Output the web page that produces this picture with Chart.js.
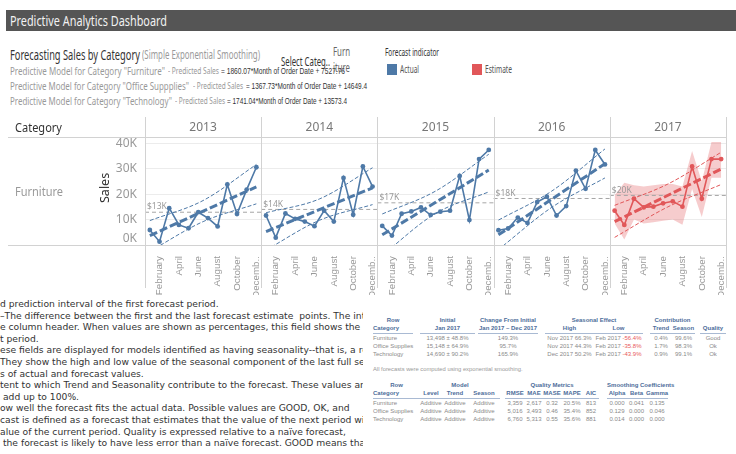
<!DOCTYPE html>
<html lang="en">
<head>
<meta charset="UTF-8">
<title>Predictive Analytics Dashboard</title>
<script src="https://cdn.jsdelivr.net/npm/chart.js"></script>
<style>
  body { margin: 0; width: 736px; height: 454px; overflow: hidden; background: #fff; position: relative;
         font-family: "Noto Sans", Arial, sans-serif; }
  .abs { position: absolute; white-space: nowrap; }
  .fit { transform-origin: left center; }
  #titlebar { left: 6px; top: 10px; width: 730px; height: 21px; background: #555; }
  #titleText { left: 10px; top: 10px; height: 21px; line-height: 21px; font-size: 15px; color: #f2f2f2; }
  .head { font-size: 13.5px; line-height: 16px; color: #333; }
  .sub { font-size: 12.5px; line-height: 16px; color: #999; }
  .model { font-size: 11.5px; line-height: 14px; color: #999; }
  .ps { font-size: 9px; line-height: 14px; color: #999; }
  .eq { font-family: "Liberation Sans", Arial, sans-serif; font-size: 9.5px; line-height: 14px; color: #333; }
  .lab { font-size: 12px; line-height: 14px; }
  .sw { width: 10px; height: 11px; top: 64px; }
  #chartBox { left: 0; top: 110px; width: 736px; height: 185px; }
  #salesTitle { left: 91px; top: 181px; font-size: 12.5px; line-height: 16px; color: #333; transform: rotate(-90deg); width: 28px; text-align: center; }
  #notes { left: 0; top: 298px; width: 363px; height: 156px; overflow: hidden; font-family: "DejaVu Sans", sans-serif;
           font-size: 9.2px; line-height: 11.6px; color: #333; }
  #notes div { white-space: nowrap; }
  table.info { position: absolute; border-collapse: collapse; font-family: "Liberation Sans", Arial, sans-serif;
               font-size: 6px; color: #8a8a8a; table-layout: fixed; }
  table.info td { padding: 0; height: 8.3px; line-height: 8.3px; white-space: nowrap; overflow: visible; }
  table.info tr.h td { color: #4d6d9a; font-weight: bold; }
  table.info tr.u td.l { border-bottom: 1px solid #a9bad3; }
  .c { text-align: center; }
  .neg { color: #e8595b; }
  #note2 { left: 373px; top: 366px; font-family: "Liberation Sans", Arial, sans-serif; font-size: 5.8px; color: #999; }
</style>
</head>
<body>
<div id="titlebar" class="abs"></div>
<div id="titleText" class="abs fit" data-w="157">Predictive Analytics Dashboard</div>

<div class="abs fit head" style="left:10px;top:47px" data-w="130">Forecasting Sales by Category</div>
<div class="abs fit sub" style="left:142px;top:47px" data-w="118">(Simple Exponential Smoothing)</div>

<div class="abs fit model" style="left:10px;top:64px" data-w="155">Predictive Model for Category "Furniture"</div>
<div class="abs fit ps" style="left:168px;top:64px" data-w="51">- Predicted Sales</div>
<div class="abs fit eq" style="left:221px;top:64px" data-w="124">= 1860.07*Month of Order Date + 7527.76</div>

<div class="abs fit model" style="left:10px;top:79px" data-w="179">Predictive Model for Category "Office Suppplies"</div>
<div class="abs fit ps" style="left:193px;top:79px" data-w="50">- Predicted Sales</div>
<div class="abs fit eq" style="left:246px;top:79px" data-w="121">= 1367.73*Month of Order Date + 14649.4</div>

<div class="abs fit model" style="left:10px;top:94px" data-w="162">Predictive Model for Category "Technology"</div>
<div class="abs fit ps" style="left:175px;top:94px" data-w="50">- Predicted Sales</div>
<div class="abs fit eq" style="left:227px;top:94px" data-w="120">= 1741.04*Month of Order Date + 13573.4</div>

<div class="abs fit lab" style="left:281px;top:55px;color:#333" data-w="49">Select Categ..</div>
<div class="abs fit lab" style="left:333px;top:45px;color:#666" data-w="17">Furn</div>
<div class="abs fit lab" style="left:333px;top:61px;color:#666" data-w="17">iture</div>
<div class="abs fit lab" style="left:385px;top:45px;color:#333;font-size:10.5px" data-w="54">Forecast indicator</div>
<div class="abs sw" style="left:387px;background:#4e79a7"></div>
<div class="abs fit lab" style="left:400px;top:62px;color:#555;font-size:10.5px" data-w="19">Actual</div>
<div class="abs sw" style="left:472px;background:#e15759"></div>
<div class="abs fit lab" style="left:485px;top:62px;color:#555;font-size:10.5px" data-w="27">Estimate</div>

<div id="chartBox" class="abs"><canvas id="forecastChart"></canvas></div>
<div class="abs fit lab" style="left:15px;top:121px;color:#333;font-size:12.5px" data-w="47">Category</div>
<div class="abs fit lab" style="left:15px;top:185px;color:#999;font-size:12.5px" data-w="48">Furniture</div>
<div id="salesTitle" class="abs">Sales</div>

<div id="notes" class="abs">
  <div>d prediction interval of the first forecast period.</div>
  <div>–The difference between the first and the last forecast estimate&nbsp; points. The interval</div>
  <div>e column header. When values are shown as percentages, this field shows the percent</div>
  <div>t period.</div>
  <div>ese fields are displayed for models identified as having seasonality--that is, a repeating</div>
  <div>They show the high and low value of the seasonal component of the last full season</div>
  <div>s of actual and forecast values.</div>
  <div>tent to which Trend and Seasonality contribute to the forecast. These values are</div>
  <div>&nbsp;add up to 100%.</div>
  <div>ow well the forecast fits the actual data. Possible values are GOOD, OK, and</div>
  <div>cast is defined as a forecast that estimates that the value of the next period will</div>
  <div>alue of the current period. Quality is expressed relative to a naïve forecast,</div>
  <div>&nbsp;the forecast is likely to have less error than a naïve forecast. GOOD means that</div>
</div>

<table class="info" style="left:373px;top:316px;width:353px">
  <colgroup>
    <col style="width:40px"><col style="width:7px"><col style="width:55px"><col style="width:3px"><col style="width:60px"><col style="width:7px">
    <col style="width:49px"><col style="width:49px"><col style="width:7px"><col style="width:22px"><col style="width:23px"><col style="width:5px"><col style="width:26px">
  </colgroup>
  <tr class="h"><td class="c">Row</td><td></td><td class="c">Initial</td><td></td><td class="c">Change From Initial</td><td></td><td class="c" colspan="2">Seasonal Effect</td><td></td><td class="c" colspan="2">Contribution</td><td></td><td></td></tr>
  <tr class="h u"><td class="l">Category</td><td></td><td class="c l">Jan 2017</td><td></td><td class="c l">Jan 2017 – Dec 2017</td><td></td><td class="c l">High</td><td class="c l">Low</td><td></td><td class="c l">Trend</td><td class="c l">Season</td><td></td><td class="c l">Quality</td></tr>
  <tr><td>Furniture</td><td></td><td class="c">13,498 ± 48.8%</td><td></td><td class="c">149.3%</td><td></td><td class="c">Nov 2017 66.3%</td><td class="c">Feb 2017 <span class="neg">-56.4%</span></td><td></td><td class="c">0.4%</td><td class="c">99.6%</td><td></td><td class="c">Good</td></tr>
  <tr><td>Office Supplies</td><td></td><td class="c">15,148 ± 64.9%</td><td></td><td class="c">95.7%</td><td></td><td class="c">Nov 2017 44.3%</td><td class="c">Feb 2017 <span class="neg">-35.8%</span></td><td></td><td class="c">1.7%</td><td class="c">98.3%</td><td></td><td class="c">Ok</td></tr>
  <tr><td>Technology</td><td></td><td class="c">14,690 ± 90.2%</td><td></td><td class="c">165.9%</td><td></td><td class="c">Dec 2017 50.2%</td><td class="c">Feb 2017 <span class="neg">-43.9%</span></td><td></td><td class="c">0.9%</td><td class="c">99.1%</td><td></td><td class="c">Ok</td></tr>
</table>
<div id="note2" class="abs">All forecasts were computed using exponential smoothing.</div>
<table class="info" style="left:373px;top:381px;width:295px">
  <colgroup>
    <col style="width:47px"><col style="width:22px"><col style="width:26px"><col style="width:32px"><col style="width:5px">
    <col style="width:20px"><col style="width:18px"><col style="width:18px"><col style="width:22px"><col style="width:16px"><col style="width:8px">
    <col style="width:20px"><col style="width:19px"><col style="width:22px">
  </colgroup>
  <tr class="h"><td class="c">Row</td><td class="c" colspan="3">Model</td><td></td><td class="c" colspan="5">Quality Metrics</td><td></td><td class="c" colspan="3">Smoothing Coefficients</td></tr>
  <tr class="h u"><td class="l">Category</td><td class="c l">Level</td><td class="c l">Trend</td><td class="c l">Season</td><td></td><td class="c l">RMSE</td><td class="c l">MAE</td><td class="c l">MASE</td><td class="c l">MAPE</td><td class="c l">AIC</td><td></td><td class="c l">Alpha</td><td class="c l">Beta</td><td class="c l">Gamma</td></tr>
  <tr><td>Furniture</td><td class="c">Additive</td><td class="c">Additive</td><td class="c">Additive</td><td></td><td class="c">3,359</td><td class="c">2,617</td><td class="c">0.32</td><td class="c">20.5%</td><td class="c">813</td><td></td><td class="c">0.000</td><td class="c">0.041</td><td class="c">0.135</td></tr>
  <tr><td>Office Supplies</td><td class="c">Additive</td><td class="c">Additive</td><td class="c">Additive</td><td></td><td class="c">5,016</td><td class="c">3,493</td><td class="c">0.46</td><td class="c">35.4%</td><td class="c">852</td><td></td><td class="c">0.129</td><td class="c">0.000</td><td class="c">0.046</td></tr>
  <tr><td>Technology</td><td class="c">Additive</td><td class="c">Additive</td><td class="c">Additive</td><td></td><td class="c">6,760</td><td class="c">5,313</td><td class="c">0.55</td><td class="c">35.6%</td><td class="c">881</td><td></td><td class="c">0.014</td><td class="c">0.000</td><td class="c">0.000</td></tr>
</table>

<script>
  // Furniture sales per month, Jan..Dec, for each year
  const years = ['2013', '2014', '2015', '2016', '2017'];
  const monthLabels = ['January', 'February', 'March', 'April', 'May', 'June', 'July', 'August', 'September', 'October', 'November', 'Decemb..'];
  const sales2013 = [5900, 1300, 14500, 7900, 6600, 12900, 10600, 7300, 23800, 12200, 21800, 30600];
  const sales2014 = [11600, 2900, 12400, 10300, 9200, 7400, 13500, 9200, 26400, 11900, 30900, 23000];
  const sales2015 = [7500, 3700, 12300, 13200, 14800, 11800, 13100, 13500, 27200, 9800, 33800, 37400];
  const sales2016 = [5800, 6500, 10800, 8700, 16900, 19000, 11600, 15300, 29300, 22100, 37400, 31700];
  const sales2017 = [13500, 7900, 18200, 14800, 15100, 16400, 17200, 15100, 30900, 18200, 33800, 33800];

  // trend line at January and December
  const trendStart = [3700, 5300, 4000, 4000, 9200];
  const trendEnd = [22900, 22500, 29500, 32000, 29900];
  // confidence band edges at January, mid year, December
  const bandUpper = [[9600, 17500, 31700], [12700, 18100, 30400], [12200, 21200, 35700], [9800, 21200, 37800], [15600, 24000, 36500]];
  const bandLower = [[-2500, 9200, 16200], [-2000, 9700, 15900], [-4000, 12400, 20900], [-1800, 14800, 26400], [3000, 15000, 23800]];
  // yearly average reference line
  const averages = [12900, 14000, 16600, 18300, 19500];
  const averageLabels = ['$13K', '$14K', '$17K', '$18K', '$20K'];
  // shaded prediction interval of the 2017 estimate
  const estimateHigh2017 = [19600, 24500, 23500, 23000, 23500, 24000, 24000, 23000, 37000, 25000, 40500, 40500];
  const estimateLow2017 = [8500, 2200, 10000, 8500, 9000, 9500, 10000, 8000, 22000, 11000, 26500, 26500];

  const yTicks = [0, 10000, 20000, 30000, 40000];

  const actualColor = '#4e79a7';
  const estimateColor = '#e15759';
  const salesByYear = [sales2013, sales2014, sales2015, sales2016, sales2017];

  // squeeze header texts to the widths they take in the dashboard
  document.querySelectorAll('.fit').forEach(el => {
    const w = el.getBoundingClientRect().width;
    el.style.transform = 'scaleX(' + (Number(el.dataset.w) / w).toFixed(3) + ')';
  });

  Chart.defaults.font.family = '"Noto Sans", Arial, sans-serif';
  Chart.defaults.animation = false;

  const datasets = [];
  years.forEach((yr, i) => {
    const base = i * 12;
    const color = i === years.length - 1 ? estimateColor : actualColor;
    datasets.push({
      data: salesByYear[i].map((v, m) => ({ x: base + m + 1, y: v })),
      borderColor: color, backgroundColor: color, borderWidth: 1.6,
      pointRadius: 2.4, pointBorderWidth: 0, order: 1
    });
    datasets.push({
      data: [{ x: base + 1, y: trendStart[i] }, { x: base + 12, y: trendEnd[i] }],
      borderColor: color, borderWidth: 3, borderDash: [8, 3], pointRadius: 0, order: 2
    });
    [bandUpper, bandLower].forEach(band => {
      datasets.push({
        data: [{ x: base + 1, y: band[i][0] }, { x: base + 6.5, y: band[i][1] }, { x: base + 12, y: band[i][2] }],
        borderColor: color, borderWidth: 1, borderDash: [4, 2], pointRadius: 0,
        cubicInterpolationMode: 'monotone', clip: 0, order: 3
      });
    });
    datasets.push({
      data: [{ x: base + 0.5, y: averages[i] }, { x: base + 12.5, y: averages[i] }],
      borderColor: '#a6a6a6', borderWidth: 1, borderDash: [4, 3], pointRadius: 0, order: 4
    });
  });
  const lastBase = (years.length - 1) * 12;
  datasets.push({
    data: estimateHigh2017.map((v, m) => ({ x: lastBase + m + 1, y: v })),
    borderWidth: 0, pointRadius: 0, fill: '+1', backgroundColor: 'rgba(225, 87, 89, 0.3)', order: 10
  });
  datasets.push({
    data: estimateLow2017.map((v, m) => ({ x: lastBase + m + 1, y: v })),
    borderWidth: 0, pointRadius: 0, fill: false, order: 10
  });

  const xTickValues = [];
  years.forEach((yr, i) => {
    for (let m = 2; m <= 12; m += 2) xTickValues.push(i * 12 + m);
  });

  // panel separators, year headers, average labels and the lifted 0K label
  const panelFrame = {
    id: 'panelFrame',
    afterDraw(chart) {
      const { ctx, chartArea, scales: { x, y } } = chart;
      ctx.save();
      ctx.strokeStyle = '#d2d2d2';
      ctx.lineWidth = 1;
      ctx.beginPath();
      ctx.moveTo(8, Math.round(chartArea.top) + 0.5);
      ctx.lineTo(chartArea.right, Math.round(chartArea.top) + 0.5);
      ctx.moveTo(8, Math.round(chartArea.bottom) + 0.5);
      ctx.lineTo(chartArea.right, Math.round(chartArea.bottom) + 0.5);
      for (let i = 0; i <= years.length; i++) {
        const px = Math.round(x.getPixelForValue(i * 12 + 0.5)) + 0.5;
        ctx.moveTo(px, 7);
        ctx.lineTo(px, chart.height - 7);
      }
      ctx.stroke();

      ctx.fillStyle = '#777';
      ctx.font = '12px "Noto Sans", Arial, sans-serif';
      ctx.textAlign = 'center';
      ctx.textBaseline = 'middle';
      years.forEach((yr, i) => ctx.fillText(yr, x.getPixelForValue(i * 12 + 6.5), 18));

      ctx.fillStyle = '#999';
      ctx.textAlign = 'right';
      ctx.fillText((yTicks[0] / 1000) + 'K', chartArea.left - 8, y.getPixelForValue(yTicks[0]) - 6);

      ctx.fillStyle = '#9a9a9a';
      ctx.font = '8.5px "Noto Sans", Arial, sans-serif';
      ctx.textAlign = 'left';
      ctx.textBaseline = 'bottom';
      averageLabels.forEach((t, i) => {
        ctx.fillText(t, x.getPixelForValue(i * 12 + 0.5) + 2, y.getPixelForValue(averages[i]) - 1);
      });
      ctx.restore();
    }
  };

  const ctx = document.getElementById('forecastChart').getContext('2d');
  new Chart(ctx, {
    type: 'line',
    data: { datasets: datasets },
    plugins: [panelFrame],
    options: {
      responsive: true,
      maintainAspectRatio: false,
      layout: { padding: { top: 27, right: 10, left: 0, bottom: 0 } },
      plugins: { legend: { display: false }, tooltip: { enabled: false } },
      elements: { line: { tension: 0 } },
      scales: {
        x: {
          type: 'linear', min: 0.5, max: 60.5,
          grid: { display: false }, border: { display: false },
          afterBuildTicks: scale => { scale.ticks = xTickValues.map(v => ({ value: v })); },
          afterFit: scale => { scale.height = 50; },
          ticks: {
            autoSkip: false, minRotation: 90, maxRotation: 90, padding: 3,
            color: '#999', font: { family: '"Liberation Sans", Arial, sans-serif', size: 9.8 },
            callback: value => monthLabels[(value - 1) % 12]
          }
        },
        y: {
          min: 0, max: 42500,
          border: { display: false },
          grid: { color: '#ececec', drawTicks: false },
          afterBuildTicks: scale => { scale.ticks = yTicks.map(v => ({ value: v })); },
          afterFit: scale => { scale.width = 145; },
          ticks: {
            padding: 8, color: '#999', font: { size: 12 },
            // the 0K label is drawn by panelFrame, lifted above the axis line
            callback: value => value === 0 ? '' : (value / 1000) + 'K'
          }
        }
      }
    }
  });
</script>
</body>
</html>
